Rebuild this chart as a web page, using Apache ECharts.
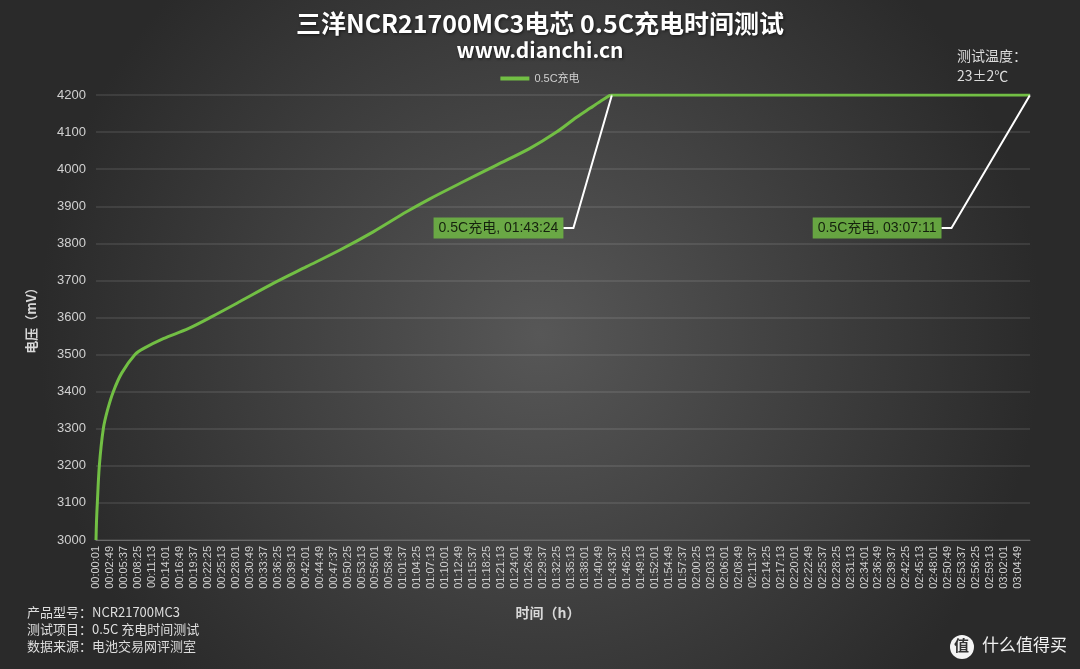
<!DOCTYPE html>
<html><head><meta charset="utf-8">
<script src="https://cdn.jsdelivr.net/npm/echarts@6/dist/echarts.min.js"></script>
<style>html,body{margin:0;padding:0;background:#3a3a3a}#c{width:1080px;height:669px}</style>
</head><body><div id="c"></div>
<script>
// ---- data ----
const seriesName = '0.5C充电';
const titleText = '三洋NCR21700MC3电芯 0.5C充电时间测试';
const subTitleText = 'www.dianchi.cn';
const yAxisName = '电压（mV）';
const xAxisName = '时间（h）';
const elapsedSec = [1, 7, 17, 41, 89, 139, 209, 310, 470, 570, 810, 1110, 1400, 1732, 2132, 2533, 2934, 3334, 3735, 4015, 4416, 4817, 5218, 5538, 5779, 5939, 6100, 6204, 6300, 11231];
const voltageMv  = [3000, 3050, 3100, 3200, 3300, 3350, 3400, 3450, 3500, 3516, 3543, 3570, 3603, 3643, 3692, 3737, 3782, 3831, 3885, 3920, 3966, 4011, 4056, 4100, 4140, 4164, 4188, 4200, 4200, 4200];
const markTimes = ['01:43:24', '03:07:11'];
const markVoltages = [4200, 4200];
const yMin = 3000, yMax = 4200, yStep = 100;
const xFirstTickSec = 1;      // first tick label 00:00:01
const xTickStepSec = 168;     // 00:02:48 between tick labels
const infoLines = ['产品型号：NCR21700MC3', '测试项目：0.5C 充电时间测试', '数据来源：电池交易网评测室'];
const tempLines = ['测试温度：', '23±2℃'];

// ---- helpers ----
function toSec(s){const p=s.split(':').map(Number);return p[0]*3600+p[1]*60+p[2];}
function fmt(sec){const h=Math.floor(sec/3600),m=Math.floor(sec%3600/60),s=sec%60;
  const z=n=>String(n).padStart(2,'0');return z(h)+':'+z(m)+':'+z(s);}
const lineData = elapsedSec.map((t,i)=>[t-xFirstTickSec, voltageMv[i]]);
const markData = markTimes.map((t,i)=>[toSec(t)-xFirstTickSec, markVoltages[i]]);
const xMax = toSec(markTimes[markTimes.length-1]) - xFirstTickSec;

const green = '#72bf44';
const latin = '"Liberation Sans", "Noto Sans CJK SC", sans-serif';
const cjk = '"Noto Sans CJK SC", "Liberation Sans", sans-serif';

const chart = echarts.init(document.getElementById('c'));
chart.setOption({
  backgroundColor: {type:'radial', x:0.5, y:0.5, r:0.75,
    colorStops:[{offset:0,color:'#575757'},{offset:1,color:'#2a2a2a'}]},
  animation:false,
  title:[
    {text:titleText, left:'center', top:6,
     textStyle:{color:'#ffffff', fontSize:25, fontWeight:'bold', fontFamily:cjk,
       textShadowColor:'rgba(0,0,0,0.6)', textShadowBlur:3, textShadowOffsetX:1, textShadowOffsetY:1}},
    {text:subTitleText, left:'center', top:35,
     textStyle:{color:'#ffffff', fontSize:21, fontWeight:'bold', fontFamily:cjk,
       textShadowColor:'rgba(0,0,0,0.6)', textShadowBlur:3, textShadowOffsetX:1, textShadowOffsetY:1}}
  ],
  legend:{data:[seriesName], left:'center', top:68, icon:'rect', itemWidth:29, itemHeight:4, itemGap:5,
    textStyle:{color:'#cfcfcf', fontSize:11, fontFamily:latin}},
  grid:{left:96, right:50, top:95, bottom:129, containLabel:false},
  xAxis:{type:'value', min:0, max:xMax, interval:xTickStepSec,
    name:xAxisName, nameLocation:'middle', nameGap:66,
    nameTextStyle:{color:'#d8d8d8', fontSize:14, fontWeight:'bold', fontFamily:cjk, padding:[0,30,0,0]},
    axisLine:{show:true, lineStyle:{color:'#6a6a6a', width:1}},
    axisTick:{show:false}, splitLine:{show:false},
    axisLabel:{rotate:90, color:'#d0d0d0', fontSize:11, fontFamily:latin, margin:6,
      showMaxLabel:false, formatter:v=>fmt(v+xFirstTickSec)}},
  yAxis:{type:'value', min:yMin, max:yMax, interval:yStep,
    name:yAxisName, nameLocation:'middle', nameGap:58,
    nameTextStyle:{color:'#d8d8d8', fontSize:13, fontWeight:'bold', fontFamily:cjk},
    axisLine:{show:false}, axisTick:{show:false},
    axisLabel:{color:'#d0d0d0', fontSize:13, fontFamily:latin, margin:10, formatter:v=>String(v)},
    splitLine:{lineStyle:{color:'rgba(255,255,255,0.12)', width:1.5}}},
  series:[
    {name:seriesName, type:'line', data:lineData, showSymbol:false, smooth:0.3,
     lineStyle:{color:green, width:3}, itemStyle:{color:green}, z:3},
    {name:seriesName, type:'scatter', data:markData, symbolSize:1, itemStyle:{color:'#ffffff'}, z:4,
     label:{show:true, position:'left', distance:0, backgroundColor:green, color:'#000',
       fontSize:14, fontFamily:latin, padding:[4,5,3,5],
       formatter:p=>seriesName+', '+markTimes[p.dataIndex]},
     labelLayout:p=>({dx: p.dataIndex===0 ? -48 : -88, dy:133}),
     labelLine:{show:true, length2:10, lineStyle:{color:'#ffffff', width:2}}}
  ],
  graphic:[
    {type:'text', left:957, top:49, style:{text:tempLines[0], fill:'#dcdcdc', font:'14px '+cjk}},
    {type:'text', left:957, top:69, style:{text:tempLines[1], fill:'#dcdcdc', font:'14px '+cjk}},
    {type:'text', left:27, top:606, style:{text:infoLines[0], fill:'#dedede', font:'13px '+cjk}},
    {type:'text', left:27, top:623, style:{text:infoLines[1], fill:'#dedede', font:'13px '+cjk}},
    {type:'text', left:27, top:640, style:{text:infoLines[2], fill:'#dedede', font:'13px '+cjk}},
    {type:'circle', shape:{cx:962, cy:647, r:12}, style:{fill:'#f4f4f4'}},
    {type:'text', left:954, top:638, style:{text:'值', fill:'#333', font:'bold 15px '+cjk}},
    {type:'text', left:982, top:636, style:{text:'什么值得买', fill:'#f0f0f0', font:'17px '+cjk}}
  ]
});
</script></body></html>
